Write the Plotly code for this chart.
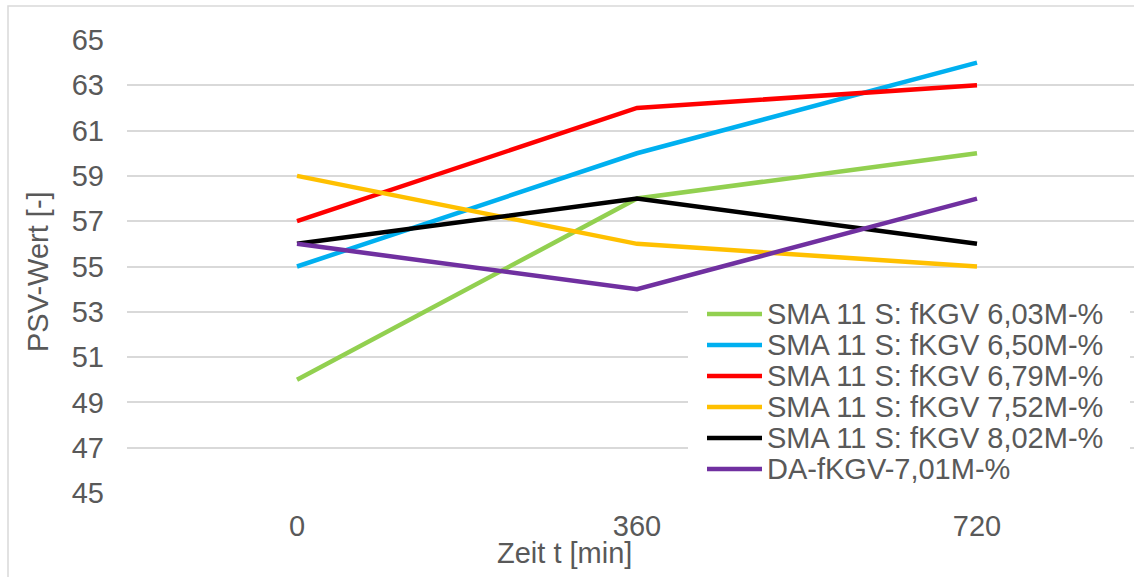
import plotly.graph_objects as go

# Zeitpunkte der Messung [min]
zeit = ["0", "360", "720"]

# PSV-Werte je Mischung
psv_603 = [50, 58, 60]
psv_650 = [55, 60, 64]
psv_679 = [57, 62, 63]
psv_752 = [59, 56, 55]
psv_802 = [56, 58, 56]
psv_da701 = [56, 54, 58]

namen = [
    "SMA 11 S: fKGV 6,03M-%",
    "SMA 11 S: fKGV 6,50M-%",
    "SMA 11 S: fKGV 6,79M-%",
    "SMA 11 S: fKGV 7,52M-%",
    "SMA 11 S: fKGV 8,02M-%",
    "DA-fKGV-7,01M-%",
]
reihen = [psv_603, psv_650, psv_679, psv_752, psv_802, psv_da701]
farben = ["#92D050", "#00B0F0", "#FF0000", "#FFC000", "#000000", "#7030A0"]

y_ticks = list(range(45, 66, 2))

W, H = 1134, 577
L, T, B = 127, 40, 84
PW = W - L
PH = H - T - B
FONT = "Liberation Sans, Arial, sans-serif"
GRAU = "#595959"


def px(x):
    return (x - L) / PW


def py(y):
    return (H - B - y) / PH


fig = go.Figure()
for name, werte, farbe in zip(namen, reihen, farben):
    fig.add_trace(go.Scatter(
        x=zeit, y=werte, name=name, mode="lines",
        line=dict(color=farbe, width=4.5),
        showlegend=False,
    ))

shapes = []
annotations = []

# Rahmen des Diagramms
shapes.append(dict(type="rect", xref="paper", yref="paper",
                   x0=px(8), x1=px(1160), y0=py(6), y1=py(620),
                   line=dict(color="#d9d9d9", width=1.5), fillcolor="rgba(0,0,0,0)"))

# Legende (Hintergrund, Linienmuster, Beschriftung)
shapes.append(dict(type="rect", xref="paper", yref="paper", layer="above",
                   x0=px(688), x1=px(1130), y0=py(296), y1=py(484),
                   line=dict(width=0), fillcolor="white"))
for i, (name, farbe) in enumerate(zip(namen, farben)):
    yc = 314 + i * 31
    shapes.append(dict(type="line", xref="paper", yref="paper", layer="above",
                       x0=px(707), x1=px(762), y0=py(yc), y1=py(yc),
                       line=dict(color=farbe, width=4.5)))
    annotations.append(dict(text=name, xref="paper", yref="paper",
                            x=px(765), y=py(yc), xanchor="left", yanchor="middle",
                            showarrow=False, font=dict(size=29, color=GRAU, family=FONT)))

# Achsentitel
annotations.append(dict(text="PSV-Wert [-]", xref="paper", yref="paper",
                        x=px(38), y=py(272), textangle=-90,
                        xanchor="center", yanchor="middle", showarrow=False,
                        font=dict(size=29, color=GRAU, family=FONT)))
annotations.append(dict(text="Zeit t [min]", xref="paper", yref="paper",
                        x=px(564), y=py(553),
                        xanchor="center", yanchor="middle", showarrow=False,
                        font=dict(size=29, color=GRAU, family=FONT)))

fig.update_layout(
    width=W, height=H,
    margin=dict(l=L, r=0, t=T, b=B, pad=0),
    paper_bgcolor="white", plot_bgcolor="white",
    font=dict(family=FONT, size=29, color=GRAU),
    shapes=shapes, annotations=annotations,
    showlegend=False,
)
fig.update_xaxes(
    type="category", range=[-0.5, -0.5 + PW / 340],
    showgrid=False, zeroline=False, showline=False, ticks="",
    ticklabelstandoff=13,
    tickfont=dict(size=29, color=GRAU, family=FONT),
)
fig.update_yaxes(
    range=[45, 65], tickvals=y_ticks,
    showgrid=True, gridcolor="#d9d9d9", gridwidth=1.5,
    zeroline=False, showline=False, ticks="",
    ticklabelstandoff=22,
    tickfont=dict(size=29, color=GRAU, family=FONT),
)

fig.write_html("out.html")
